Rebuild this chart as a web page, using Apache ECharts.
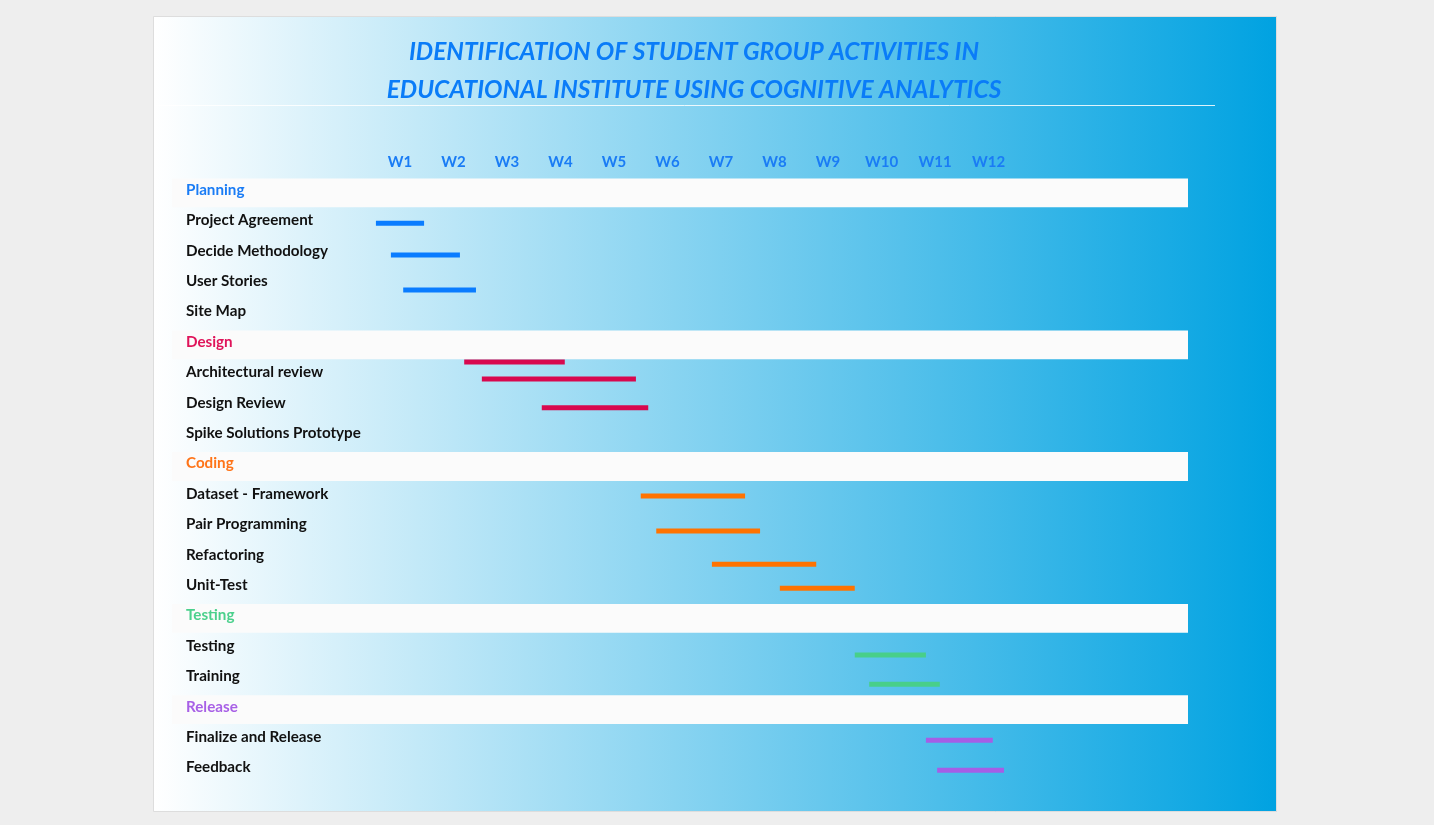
<!DOCTYPE html>
<html>
<head>
<meta charset="utf-8">
<script src="https://cdn.jsdelivr.net/npm/echarts@6/dist/echarts.min.js"></script>
<style>html,body{margin:0;padding:0;background:#eeeeee;}#c{width:1434px;height:825px;}</style>
</head>
<body>
<div id="c"></div>
<script>
// ---- data ----
const titleText = 'IDENTIFICATION OF STUDENT GROUP ACTIVITIES IN\nEDUCATIONAL INSTITUTE USING COGNITIVE ANALYTICS';
const weeks = ['W1','W2','W3','W4','W5','W6','W7','W8','W9','W10','W11','W12'];
const phases = ['Planning','Design','Coding','Testing','Release'];
const rowLabels = ['Planning','Project Agreement','Decide Methodology','User Stories','Site Map',
  'Design','Architectural review','Design Review','Spike Solutions Prototype',
  'Coding','Dataset - Framework','Pair Programming','Refactoring','Unit-Test',
  'Testing','Testing','Training',
  'Release','Finalize and Release','Feedback'];
const phaseRows = [0, 5, 9, 14, 17];
// bars: start week, end week, lane (row position), phase index
const barStart = [0.55, 0.83, 1.06, 2.20, 2.53, 3.65, 5.50, 5.79, 6.83, 8.10, 9.50, 9.77, 10.83, 11.04];
const barEnd   = [1.45, 2.12, 2.42, 4.08, 5.41, 5.64, 7.45, 7.73, 8.78, 9.50, 10.83, 11.09, 12.08, 12.29];
const barLane  = [1.09, 2.14, 3.29, 5.66, 6.22, 7.16, 10.07, 11.22, 12.31, 13.10, 15.30, 16.26, 18.10, 19.09];
const barPhase = [0, 0, 0, 1, 1, 1, 2, 2, 2, 2, 3, 3, 4, 4];

// ---- styles ----
const phaseTextColors = ['#1a7cf5', '#e0145a', '#ff7418', '#4bd08c', '#a860e6'];
const phaseBarColors  = ['#0a7cff', '#d8084e', '#ff7300', '#48cf8a', '#a55ee6'];
const FONT = 'Lato, "Open Sans", sans-serif';

const W1X = 400, PXW = 53.5, GL = 172, GR = 1188;
const xMin = 1 - (W1X - GL) / PXW;
const xMax = 1 + (GR - W1X) / PXW;

const rich = {};
phases.forEach((p, i) => { rich['p' + i] = { color: phaseTextColors[i], fontWeight: 'bold', fontSize: 15.2, fontFamily: FONT }; });
rich.t = { color: '#111111', fontWeight: 'bold', fontSize: 15.2, fontFamily: FONT };

const chart = echarts.init(document.getElementById('c'));
const barData = barStart.map((s, i) => [s, barEnd[i], barLane[i], barPhase[i]]);

chart.setOption({
  backgroundColor: '#eeeeee',
  animation: false,
  title: {
    text: titleText,
    left: 689, top: 28, textAlign: 'center',
    textStyle: { color: '#0a7cf8', fontSize: 24.5, fontWeight: 'bold', fontStyle: 'italic', fontFamily: FONT, lineHeight: 38 }
  },
  graphic: [
    { type: 'rect', z: -10, silent: true,
      shape: { x: 153.5, y: 16.5, width: 1123, height: 795 },
      style: { fill: new echarts.graphic.LinearGradient(0, 0, 1, 0, [
        { offset: 0, color: '#ffffff' }, { offset: 1, color: '#00a2e1' }]),
        stroke: '#dddddd', lineWidth: 1 } },
    { type: 'line', z: -5, silent: true,
      shape: { x1: 154, y1: 105.5, x2: 1215, y2: 105.5 },
      style: { stroke: 'rgba(255,255,255,0.85)', lineWidth: 1 } }
  ],
  grid: { left: GL, right: 1434 - GR, top: 174.8, bottom: 42.3 },
  xAxis: {
    type: 'value', position: 'top', min: xMin, max: xMax,
    splitLine: { show: false }, axisLine: { show: false }, axisTick: { show: false },
    axisLabel: {
      customValues: weeks.map((w, i) => i + 1),
      formatter: v => weeks[Math.round(v) - 1] || '',
      color: '#1a7cf5', fontWeight: 'bold', fontSize: 15, fontFamily: FONT, margin: 5
    }
  },
  yAxis: {
    type: 'value', inverse: true, min: -0.5, max: 19.5,
    splitLine: { show: false }, axisLine: { show: false }, axisTick: { show: false },
    axisLabel: {
      inside: true, margin: 14,
      customValues: rowLabels.map((r, i) => i),
      formatter: v => {
        const i = Math.round(v);
        const pi = phaseRows.indexOf(i);
        return pi >= 0 ? '{p' + pi + '|' + rowLabels[i] + '}' : '{t|' + rowLabels[i] + '}';
      },
      rich: rich
    },
    z: 10
  },
  series: [{
    type: 'custom',
    data: barData,
    encode: { x: [0, 1], y: 2 },
    renderItem: (params, api) => {
      const a = api.coord([api.value(0), api.value(2)]);
      const b = api.coord([api.value(1), api.value(2)]);
      return { type: 'rect', shape: { x: a[0], y: a[1] - 2.5, width: b[0] - a[0], height: 5 },
        style: { fill: phaseBarColors[api.value(3)] } };
    },
    markArea: {
      silent: true,
      itemStyle: { color: '#fbfbfb' },
      label: { show: false },
      data: phaseRows.map(r => [{ xAxis: xMin, yAxis: r - 0.38 }, { xAxis: xMax, yAxis: r + 0.57 }])
    },
    z: 3
  }]
});
</script>
</body>
</html>
